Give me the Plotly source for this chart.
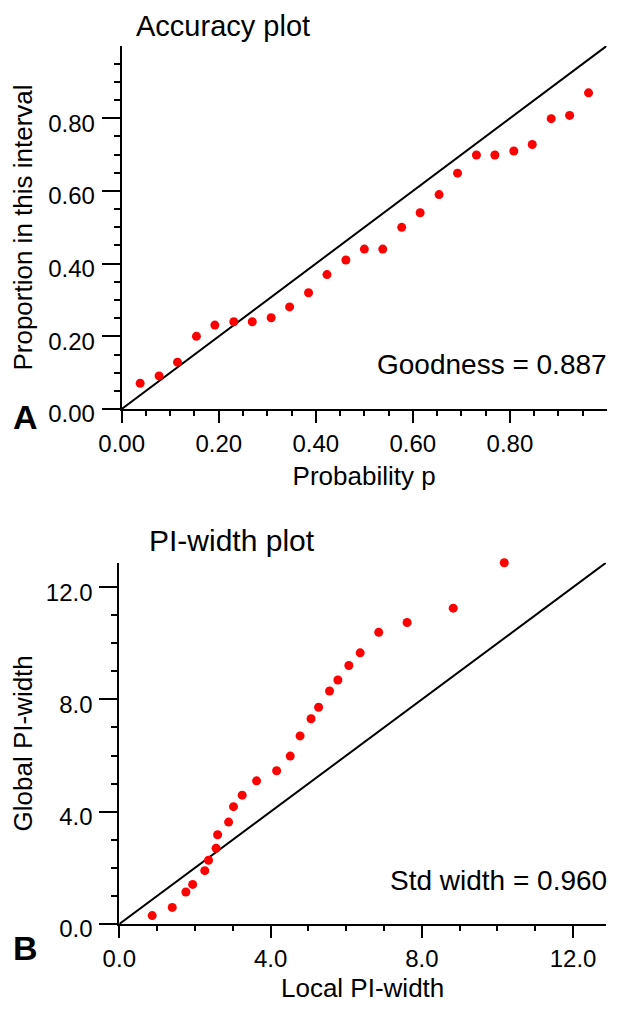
import plotly.graph_objects as go

# ---- Data ----
acc_p = [0.038, 0.077, 0.115, 0.154, 0.192, 0.231, 0.269, 0.308, 0.346, 0.385,
         0.423, 0.462, 0.500, 0.538, 0.577, 0.615, 0.654, 0.692, 0.731, 0.769,
         0.808, 0.846, 0.885, 0.923, 0.962]
acc_prop = [0.071, 0.091, 0.129, 0.200, 0.231, 0.240, 0.240, 0.251, 0.281, 0.320,
            0.370, 0.410, 0.440, 0.440, 0.500, 0.540, 0.590, 0.649, 0.699, 0.699,
            0.710, 0.728, 0.799, 0.808, 0.870]
acc_diag = [0.0, 1.0]
acc_ticks = [0.0, 0.2, 0.4, 0.6, 0.8]

local_w = [0.87, 1.40, 1.76, 1.94, 2.26, 2.36, 2.56, 2.60, 2.89, 3.02,
           3.25, 3.63, 4.16, 4.52, 4.78, 5.07, 5.27, 5.56, 5.78, 6.07,
           6.37, 6.86, 7.61, 8.83, 10.18]
global_w = [0.30, 0.59, 1.14, 1.41, 1.90, 2.27, 2.70, 3.18, 3.63, 4.18,
            4.59, 5.10, 5.46, 5.98, 6.70, 7.31, 7.72, 8.30, 8.69, 9.21,
            9.66, 10.39, 10.74, 11.25, 12.87]
pi_diag = [0.0, 12.87]
pi_ticks = [0.0, 4.0, 8.0, 12.0]

FONT = "Liberation Sans, Arial, Helvetica, sans-serif"
# page body has an 8px margin; the figure is sized to fit inside the window
OFF = 8
W, H = 624 - 2 * OFF, 1011 - 2 * OFF

fig = go.Figure()

# Top: accuracy plot
fig.add_trace(go.Scatter(x=acc_diag, y=acc_diag, mode="lines",
                         line=dict(color="black", width=2), cliponaxis=False,
                         xaxis="x", yaxis="y", showlegend=False, hoverinfo="skip"))
fig.add_trace(go.Scatter(x=acc_p, y=acc_prop, mode="markers",
                         marker=dict(color="#ff0000", size=9), cliponaxis=False,
                         xaxis="x", yaxis="y", showlegend=False))
# Bottom: PI-width plot
fig.add_trace(go.Scatter(x=pi_diag, y=pi_diag, mode="lines",
                         line=dict(color="black", width=2), cliponaxis=False,
                         xaxis="x2", yaxis="y2", showlegend=False, hoverinfo="skip"))
fig.add_trace(go.Scatter(x=local_w, y=global_w, mode="markers",
                         marker=dict(color="#ff0000", size=9), cliponaxis=False,
                         xaxis="x2", yaxis="y2", showlegend=False))

def px_x(p):
    return (p - OFF) / W

def px_y(p):
    return 1 - (p - OFF) / H

tickfont = dict(family=FONT, size=24, color="black")
titlefont = dict(family=FONT, size=26, color="black")

def xaxis(dom, rng, tickvals, fmt, minor_dtick, anchor, title):
    return dict(domain=dom, range=rng, anchor=anchor, automargin=False,
                showline=True, linecolor="black",
                linewidth=2, showgrid=False, zeroline=False, ticks="outside",
                ticklen=12, tickwidth=2, tickcolor="black", tickvals=tickvals,
                tickformat=fmt, tickfont=tickfont,
                minor=dict(dtick=minor_dtick, tick0=0, ticks="outside", ticklen=5,
                           tickwidth=2, tickcolor="black", showgrid=False),
                title=dict(text=title, font=titlefont, standoff=11))

def yaxis(dom, rng, tickvals, fmt, minor_dtick, anchor, title):
    return dict(domain=dom, range=rng, anchor=anchor, automargin=False,
                showline=True, linecolor="black",
                linewidth=2, showgrid=False, zeroline=False, ticks="outside",
                ticklen=18, tickwidth=2, tickcolor="black", tickvals=tickvals,
                tickformat=fmt, tickfont=tickfont, ticklabelstandoff=2,
                ticklabelshift=5,
                minor=dict(dtick=minor_dtick, tick0=0, ticks="outside", ticklen=6,
                           tickwidth=2, tickcolor="black", showgrid=False),
                title=dict(text=title, font=titlefont, standoff=8))

fig.update_layout(
    width=W, height=H,
    margin=dict(l=0, r=0, t=0, b=0),
    paper_bgcolor="white", plot_bgcolor="white",
    font=dict(family=FONT, color="black"),
    xaxis=xaxis([px_x(121.7), px_x(606.5)], [0, 0.999], acc_ticks, ".2f", 0.05, "y",
                "Probability p"),
    yaxis=yaxis([px_y(409), px_y(46)], [0, 0.999], acc_ticks, ".2f", 0.05, "x",
                "Proportion in this interval"),
    xaxis2=xaxis([px_x(119.3), px_x(606)], [0, 12.87], pi_ticks, ".1f", 1, "y2",
                 "Local PI-width"),
    yaxis2=yaxis([px_y(924), px_y(562.7)], [0, 12.87], pi_ticks, ".1f", 1, "x2",
                 "Global PI-width"),
)

ann = [
    dict(text="Accuracy plot", x=px_x(134), y=1.0, xanchor="left", yanchor="top",
         font=dict(family=FONT, size=29)),
    dict(text="Goodness = 0.887", x=px_x(609), y=px_y(365), xanchor="right", yanchor="middle",
         font=dict(family=FONT, size=28)),
    dict(text="<b>A</b>", x=px_x(25), y=px_y(417), xanchor="center", yanchor="middle",
         font=dict(family=FONT, size=34)),
    dict(text="PI-width plot", x=px_x(147), y=px_y(540), xanchor="left", yanchor="middle",
         font=dict(family=FONT, size=30)),
    dict(text="Std width = 0.960", x=px_x(609), y=px_y(880), xanchor="right", yanchor="middle",
         font=dict(family=FONT, size=28)),
    dict(text="<b>B</b>", x=px_x(25), y=px_y(948), xanchor="center", yanchor="middle",
         font=dict(family=FONT, size=34)),
]
for a in ann:
    a.update(xref="paper", yref="paper", showarrow=False)
    a["font"]["color"] = "black"
fig.update_layout(annotations=ann)

fig.write_html("out.html")
